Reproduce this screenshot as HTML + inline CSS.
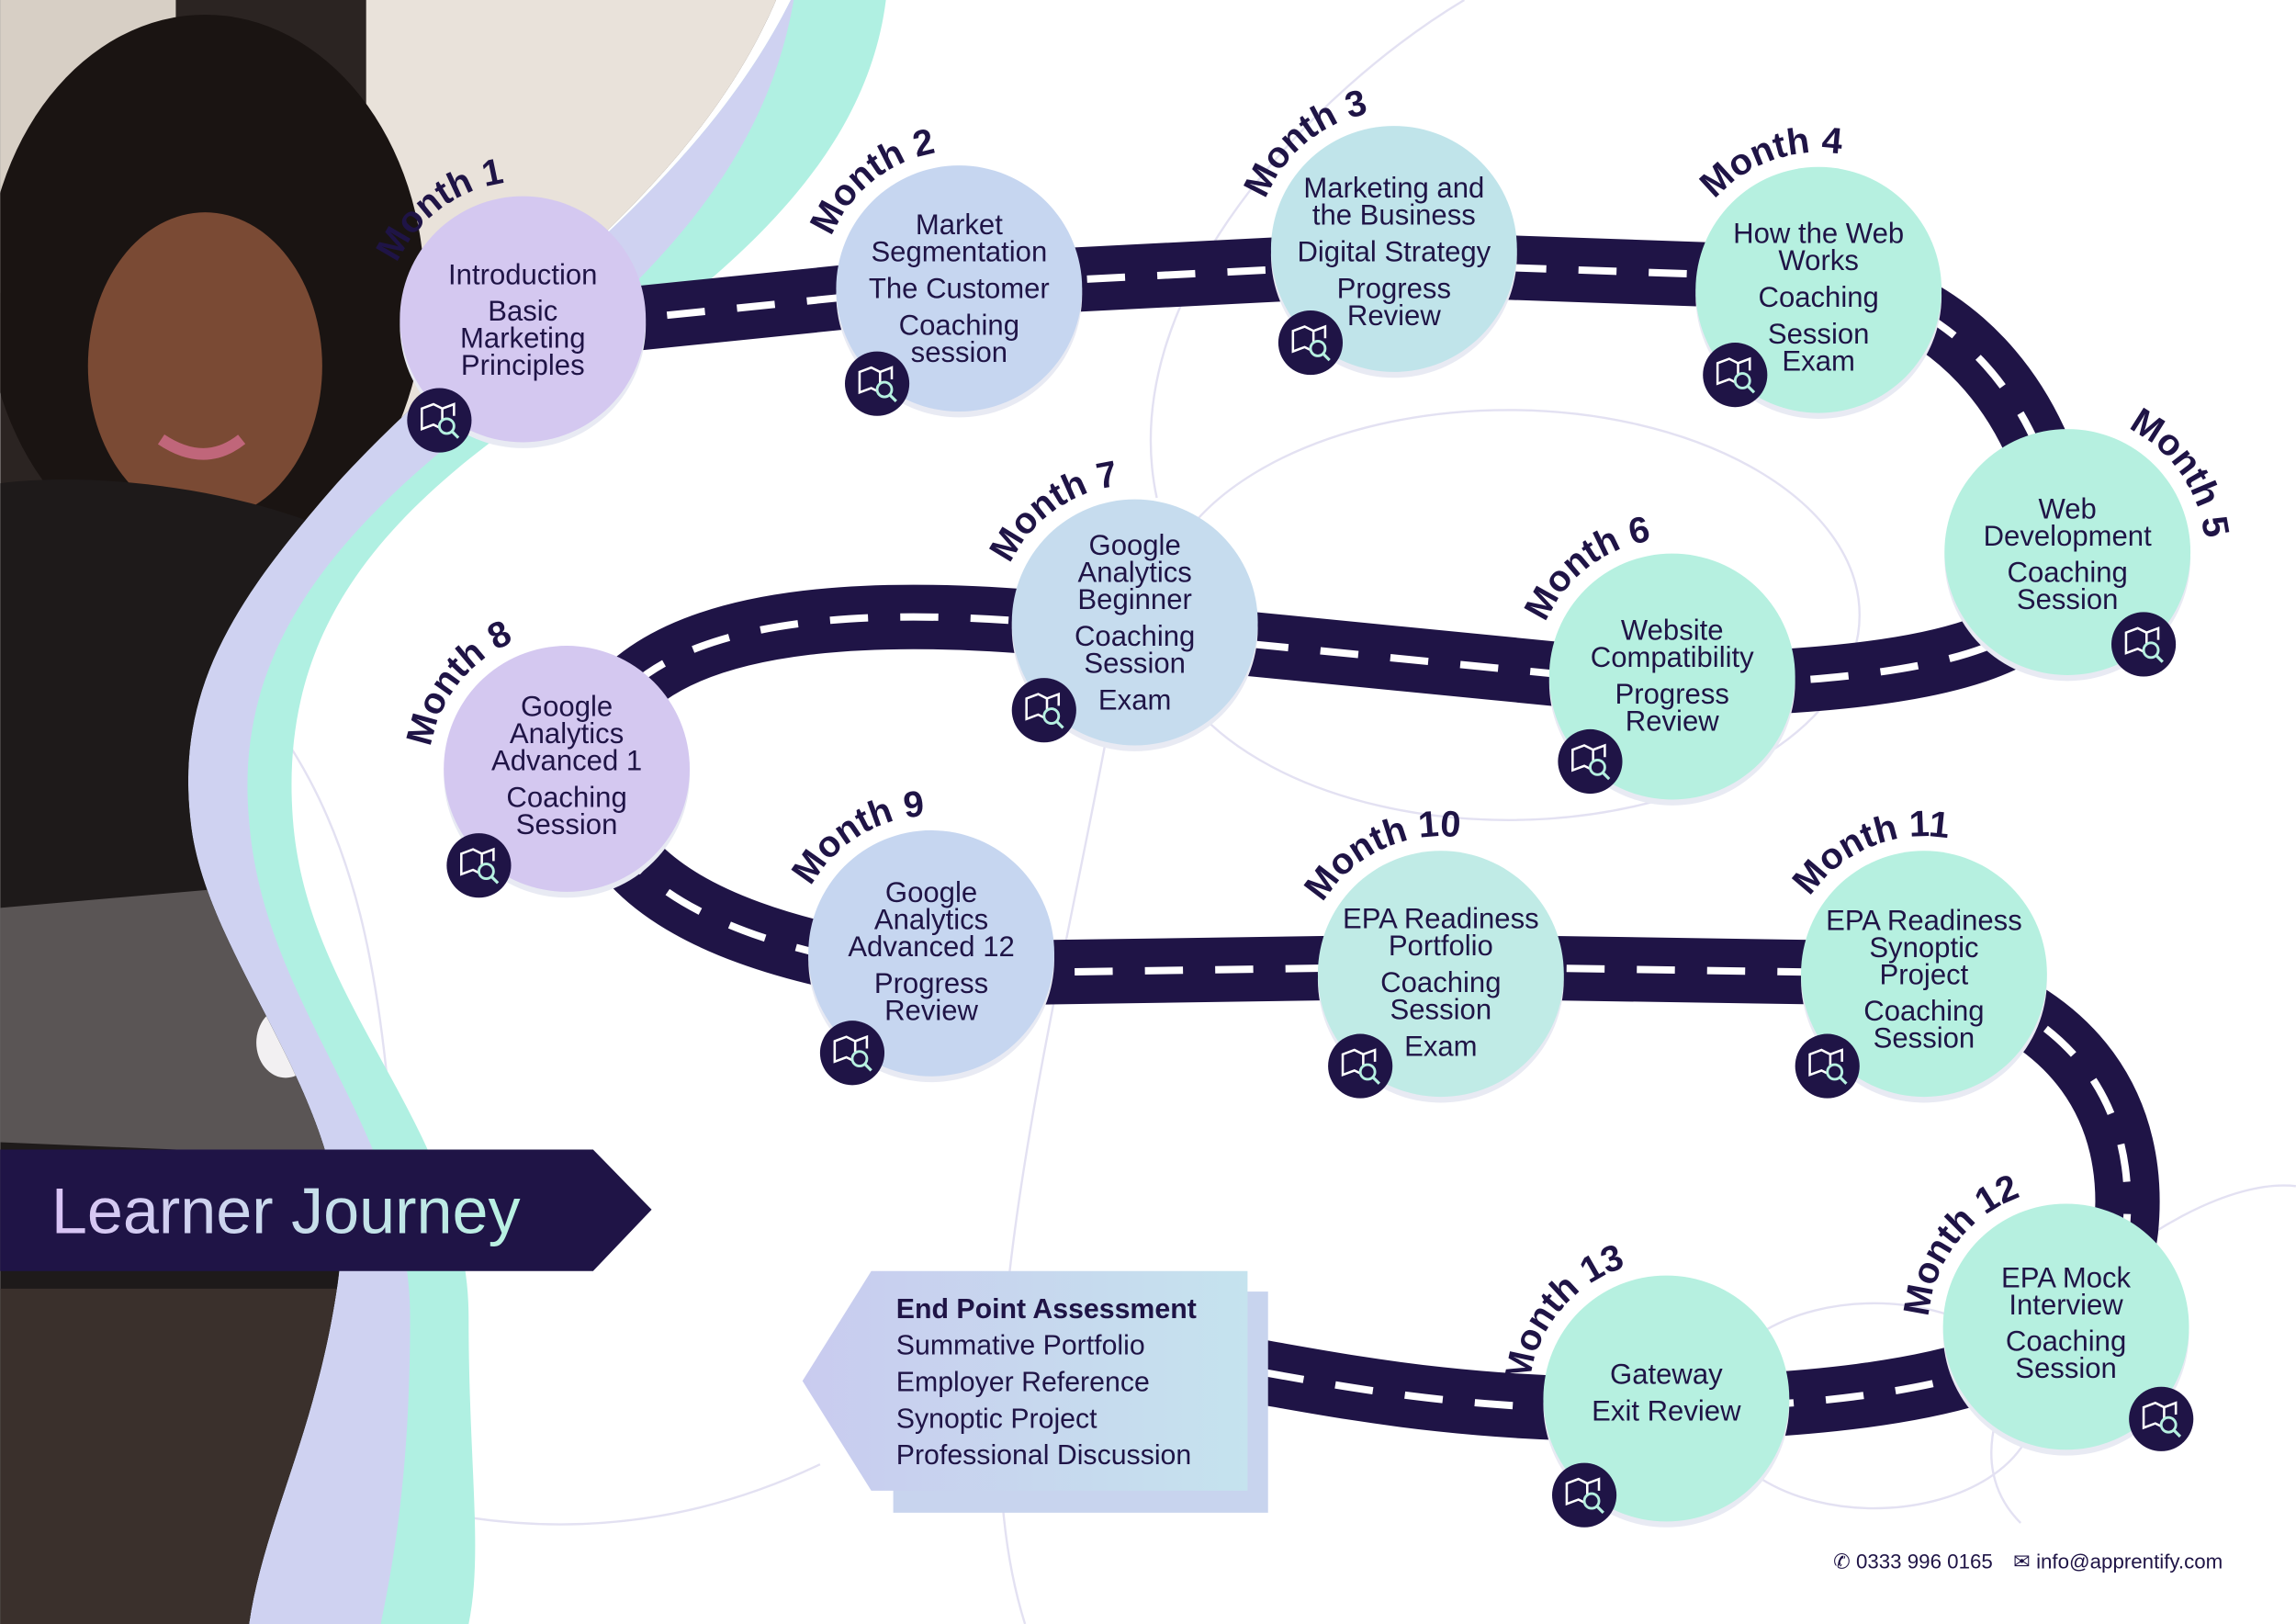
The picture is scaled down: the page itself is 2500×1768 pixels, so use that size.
<!DOCTYPE html>
<html><head><meta charset="utf-8">
<style>
html,body{margin:0;padding:0;background:#fff;}
svg{display:block;}
text{font-family:"Liberation Sans","DejaVu Sans",sans-serif;}
</style></head>
<body>
<svg id="s" width="2500" height="1768" viewBox="0 0 1568 1109" xmlns="http://www.w3.org/2000/svg">
<defs>
<linearGradient id="lj" x1="0" x2="1"><stop offset="0" stop-color="#d9c3f5"/><stop offset="1" stop-color="#b8f2e2"/></linearGradient>
<linearGradient id="epa" x1="0" x2="1"><stop offset="0" stop-color="#c9cbef"/><stop offset="1" stop-color="#c5e3ee"/></linearGradient>
<clipPath id="photo"><path d="M0,0 L530,0 C470,140 330,220 230,330 C160,410 120,470 130,560 C140,660 250,760 230,880 C215,980 180,1040 170,1109 L0,1109 Z"/></clipPath>
</defs>
<rect width="1568" height="1109" fill="#fff"/>
<g fill="none" stroke="#e3e1f2" stroke-width="1.5">
<ellipse cx="1030" cy="420" rx="240" ry="140"/>
<path d="M790,340 C760,200 900,60 1000,0"/>
<path d="M1380,1040 C1300,960 1480,800 1568,810"/>
<path d="M700,1109 C650,950 720,700 760,480"/>
<path d="M0,880 C150,1000 350,1100 560,1000"/>
<ellipse cx="1280" cy="960" rx="110" ry="70"/>
<path d="M150,450 C300,600 250,800 300,1109"/>
</g>
<path d="M540,0 L605,0 C590,120 480,200 380,270 C260,350 190,430 200,560 C210,690 320,770 320,900 C320,1000 330,1060 320,1109 L170,1109 C180,1040 215,980 230,880 C250,760 140,660 130,560 C120,470 160,410 230,330 C330,220 470,140 540,0Z" fill="#b0f0e2"/>
<path d="M540,0 L542,0 C520,130 420,210 330,285 C220,370 160,450 170,560 C180,690 280,770 280,900 C280,1000 270,1060 260,1109 L170,1109 C180,1040 215,980 230,880 C250,760 140,660 130,560 C120,470 160,410 230,330 C330,220 470,140 540,0Z" fill="#cfd2f1"/>
<g clip-path="url(#photo)">
<rect width="600" height="1109" fill="#2b2422"/>
<rect x="250" y="0" width="300" height="330" fill="#e9e2da"/>
<rect x="0" y="0" width="120" height="200" fill="#d7cfc5"/>
<ellipse cx="140" cy="200" rx="150" ry="190" fill="#1a1412"/>
<ellipse cx="140" cy="250" rx="80" ry="105" fill="#7a4a34"/>
<path d="M110,300 Q140,320 165,300" stroke="#c0667a" stroke-width="8" fill="none"/>
<path d="M0,330 C80,320 200,340 260,380 L260,1109 L0,1109Z" fill="#1e1a1a"/>
<path d="M0,620 L230,600 L240,790 L0,780Z" fill="#5a5555"/>
<ellipse cx="195" cy="712" rx="20" ry="24" fill="#f2f0f2"/>
<rect x="0" y="880" width="230" height="229" fill="#3a302c"/>
</g>
<path d="M360,225 L655,195 L952,180 L1240,190 C1330,200 1395,270 1410,370 C1420,440 1330,465 1142,468 L775,432 C600,410 470,420 420,480 C380,560 430,640 640,665 L984,660 L1314,665 C1420,690 1460,760 1452,840 C1442,925 1340,958 1138,962 C1000,965 910,945 850,935" fill="none" stroke="#1f1446" stroke-width="44"/>
<path d="M360,225 L655,195 L952,180 L1240,190 C1330,200 1395,270 1410,370 C1420,440 1330,465 1142,468 L775,432 C600,410 470,420 420,480 C380,560 430,640 640,665 L984,660 L1314,665 C1420,690 1460,760 1452,840 C1442,925 1340,958 1138,962 C1000,965 910,945 850,935" fill="none" stroke="#fff" stroke-width="5" stroke-dasharray="26 22"/>
<rect x="610" y="882" width="256" height="151" fill="#c8d4ee"/>
<polygon points="595,868 852,868 852,1018 595,1018 548,943" fill="url(#epa)"/>
<g font-size="19" fill="#1f1446">
<text x="612" y="900" font-weight="bold">End Point Assessment</text>
<text x="612" y="925">Summative Portfolio</text>
<text x="612" y="950">Employer Reference</text>
<text x="612" y="975">Synoptic Project</text>
<text x="612" y="1000">Professional Discussion</text>
</g>
<polygon points="0,785 405,785 445,826 405,868 0,868" fill="#1f1446"/>
<text x="35" y="842" font-size="44" fill="url(#lj)">Learner Journey</text>
<g id="nodes"></g>
<g font-size="14" fill="#1f1446">
<text x="1252" y="1071">✆ 0333 996 0165</text>
<text x="1375" y="1071">✉ info@apprentify.com</text>
</g>
</svg>
<script>
// [cx,cy,color,arcStart,lines(with "|" = group gap),month,firstLineY,iconDx,iconDy]
var N=[
[357,218,"#d4c8f0",204,["Introduction","|","Basic","Marketing","Principles"],1,187,-57,69],
[655,197,"#c6d6f0",202,["Market","Segmentation","|","The Customer","|","Coaching","session"],2,153,-56,65],
[952,170,"#c0e4ea",201,["Marketing and","the Business","|","Digital Strategy","|","Progress","Review"],3,128,-57,64],
[1242,198,"#b6f0e0",221,["How the Web","Works","|","Coaching","|","Session","Exam"],4,159,-57,58],
[1412,377,"#b6f0e0",296,["Web","Development","|","Coaching","Session"],5,347,52,63],
[1142,462,"#b6f0e0",203,["Website","Compatibility","|","Progress","Review"],6,430,-56,58],
[775,425,"#c6dcee",205,["Google","Analytics","Beginner","|","Coaching","Session","|","Exam"],7,372,-62,60],
[387,525,"#d4c8f0",189,["Google","Analytics","Advanced 1","|","Coaching","Session"],8,482,-60,66],
[636,651,"#c6d6f0",209,["Google","Analytics","Advanced 12","|","Progress","Review"],9,609,-54,68],
[984,665,"#c0ebe6",211,["EPA Readiness","Portfolio","|","Coaching","Session","|","Exam"],10,627,-55,63],
[1314,665,"#b6f0e0",214,["EPA Readiness","Synoptic","Project","|","Coaching","Session"],11,628,-66,63],
[1411,906,"#b6f0e0",184,["EPA Mock","Interview","|","Coaching","Session"],12,872,65,63],
[1138,955,"#b6f0e0",186,["Gateway","|","Exit Review"],13,938,-56,66]];
var g=document.getElementById('nodes'),h='';
N.forEach(function(n,i){
var cx=n[0],cy=n[1],r=84,R=94,a1=n[3]*Math.PI/180,a2=(n[3]+130)*Math.PI/180;
h+='<circle cx="'+cx+'" cy="'+(cy+4)+'" r="'+r+'" fill="#e8eaf3"/>';
h+='<circle cx="'+cx+'" cy="'+cy+'" r="'+r+'" fill="'+n[2]+'"/>';
var x1=cx+R*Math.cos(a1),y1=cy+R*Math.sin(a1),x2=cx+R*Math.cos(a2),y2=cy+R*Math.sin(a2);
h+='<path id="arc'+i+'" d="M'+x1+','+y1+' A'+R+','+R+' 0 0 1 '+x2+','+y2+'" fill="none"/>';
h+='<text font-size="25" font-weight="bold" fill="#1f1446"><textPath href="#arc'+i+'">Month '+n[5]+'</textPath></text>';
var y=n[6],first=true;
n[4].forEach(function(t){ if(t=="|"){y+=6.5;return;} if(!first)y+=18.5; first=false;
 h+='<text x="'+cx+'" y="'+(y+7)+'" font-size="19.5" fill="#1f1446" text-anchor="middle">'+t+'</text>';});
var bx=cx+n[7],by=cy+n[8];
h+='<circle cx="'+bx+'" cy="'+by+'" r="22" fill="#1f1446"/>';
h+='<path d="M'+(bx-12)+','+(by-8)+' l8,-3 l6,3 l0,14 l-6,-3 l-8,3z M'+(bx+2)+','+(by-8)+' l8,-3 l0,8" fill="none" stroke="#fff" stroke-width="1.6"/>';
h+='<circle cx="'+(bx+5)+'" cy="'+(by+4)+'" r="5" fill="#1f1446" stroke="#b6f0e0" stroke-width="1.8"/><line x1="'+(bx+9)+'" y1="'+(by+8)+'" x2="'+(bx+13)+'" y2="'+(by+12)+'" stroke="#b6f0e0" stroke-width="2"/>';
});
g.innerHTML=h;
</script>
</body></html>
